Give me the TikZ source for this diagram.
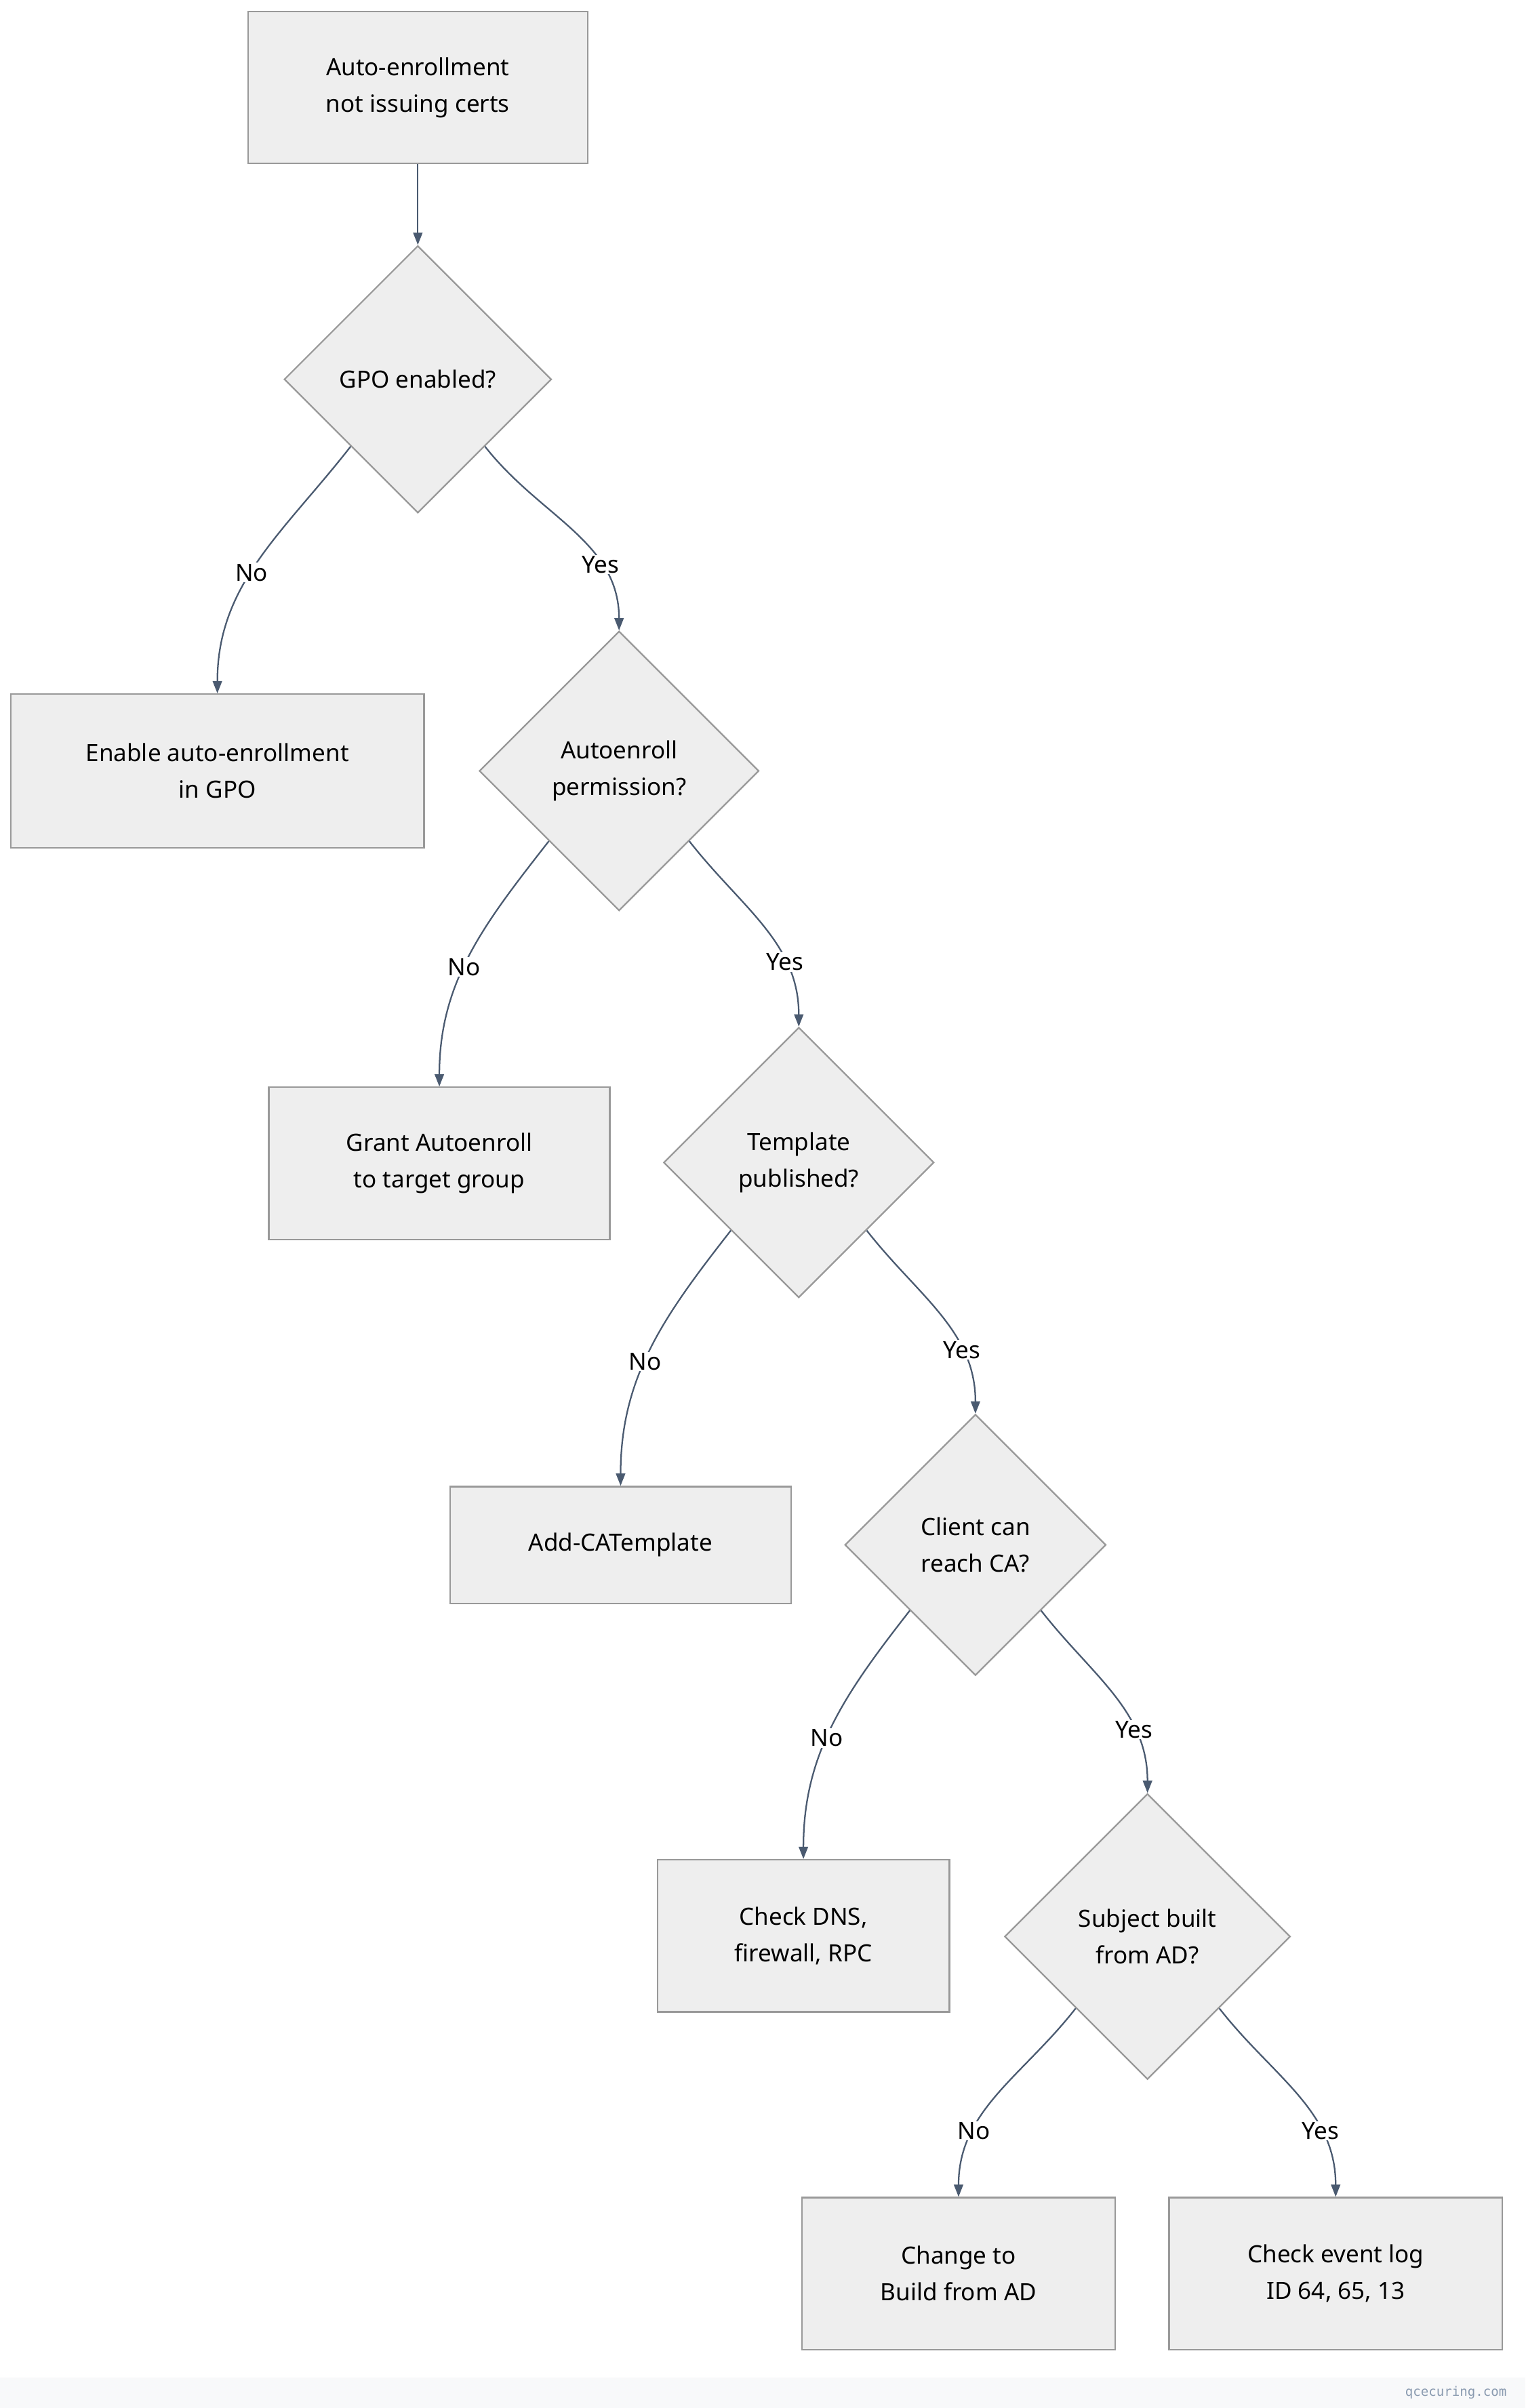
\documentclass[tikz,border=0pt]{standalone}
\usepackage{fontspec}
\setmainfont{Noto Sans}
\newfontfamily\wmfont{DejaVu Sans Mono}
\usetikzlibrary{shapes.geometric,arrows.meta}
\definecolor{boxfill}{HTML}{EEEEEE}
\definecolor{boxline}{HTML}{999999}
\definecolor{arrcol}{HTML}{4A5A70}
\definecolor{footbg}{HTML}{F8F9FA}
\definecolor{wmcol}{HTML}{8A9BB0}
\begin{document}
\begin{tikzpicture}[x=1mm,y=-1mm,
  every node/.style={font=\fontsize{44}{68}\selectfont},
  box/.style={draw=boxline,fill=boxfill,line width=1mm,rectangle,inner sep=0pt,align=center},
  dia/.style={draw=boxline,fill=boxfill,line width=1mm,diamond,aspect=1,inner sep=0pt,align=center},
  arr/.style={draw=arrcol,line width=1mm,-{Triangle[length=8mm,width=6mm]}},
  lbl/.style={fill=white,inner sep=2pt}]
\fill[white] (0,0) rectangle (993,1568);
\useasboundingbox (0,0) rectangle (993,1568);
\fill[footbg] (0,1548) rectangle (993,1568);
\node[box,minimum width=221mm,minimum height=99mm] (start) at (272,57) {Auto-enrollment\\not issuing certs};
\node[dia,minimum width=174mm,minimum height=174mm] (d1) at (272,247) {GPO enabled?};
\node[box,minimum width=269mm,minimum height=100mm] (n1) at (141.5,502) {Enable auto-enrollment\\in GPO};
\node[dia,minimum width=182mm,minimum height=182mm] (d2) at (403,502) {Autoenroll\\permission?};
\node[box,minimum width=222mm,minimum height=99mm] (n2) at (286,757.5) {Grant Autoenroll\\to target group};
\node[dia,minimum width=176mm,minimum height=176mm] (d3) at (520,757) {Template\\published?};
\node[box,minimum width=222mm,minimum height=76mm] (n3) at (404,1006) {Add-CATemplate};
\node[dia,minimum width=170mm,minimum height=170mm] (d4) at (635,1006) {Client can\\reach CA?};
\node[box,minimum width=190mm,minimum height=99mm] (n4) at (523,1260.5) {Check DNS,\\firewall, RPC};
\node[dia,minimum width=186mm,minimum height=186mm] (d5) at (747,1261) {Subject built\\from AD?};
\node[box,minimum width=204mm,minimum height=99mm] (n5) at (624,1480.5) {Change to\\Build from AD};
\node[box,minimum width=217mm,minimum height=99mm] (n6) at (869.5,1480.5) {Check event log\\ID 64, 65, 13};
\node[anchor=east,font=\wmfont\fontsize{24}{28}\selectfont,text=wmcol] (wm) at (982,1558) {qcecuring.com};
\draw[arr] (start.south) -- (d1.north);
\draw[arr] (d1.south west) to[out=-128,in=90] node[lbl,pos=0.55]{No} (n1.north);
\draw[arr] (d1.south east) to[out=-52,in=90] node[lbl,pos=0.7]{Yes} (d2.north);
\draw[arr] (d2.south west) to[out=-128,in=90] node[lbl,pos=0.55]{No} (n2.north);
\draw[arr] (d2.south east) to[out=-52,in=90] node[lbl,pos=0.7]{Yes} (d3.north);
\draw[arr] (d3.south west) to[out=-128,in=90] node[lbl,pos=0.55]{No} (n3.north);
\draw[arr] (d3.south east) to[out=-52,in=90] node[lbl,pos=0.7]{Yes} (d4.north);
\draw[arr] (d4.south west) to[out=-128,in=90] node[lbl,pos=0.55]{No} (n4.north);
\draw[arr] (d4.south east) to[out=-52,in=90] node[lbl,pos=0.7]{Yes} (d5.north);
\draw[arr] (d5.south west) to[out=-128,in=90] node[lbl,pos=0.7]{No} (n5.north);
\draw[arr] (d5.south east) to[out=-52,in=90] node[lbl,pos=0.7]{Yes} (n6.north);
\end{tikzpicture}
\end{document}
